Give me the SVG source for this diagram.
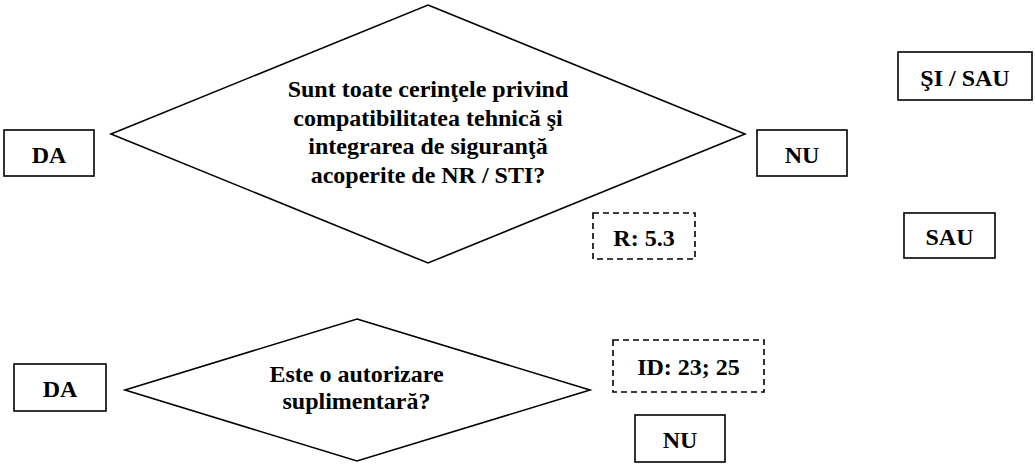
<svg xmlns="http://www.w3.org/2000/svg" width="1035" height="473" viewBox="0 0 1035 473">
<defs>
<style>
  .shape { fill: #ffffff; stroke: #000000; stroke-width: 1.6; }
  .dash { fill: #ffffff; stroke: #000000; stroke-width: 1.6; stroke-dasharray: 6 4; }
  .t { font-family: 'Liberation Serif', 'Times New Roman', serif; font-weight: 700; font-size: 24px; text-anchor: middle; fill: #000000; }
</style>
</defs>
<rect width="1035" height="473" fill="#ffffff"/>
<g id="connectors"></g>
<g id="decision1">
  <polygon class="shape" points="428,5 745,134 428,263 111,134"/>
  <text class="t" x="428" y="97">Sunt toate cerinţele privind</text>
  <text class="t" x="428" y="125.5">compatibilitatea tehnică şi</text>
  <text class="t" x="428" y="154">integrarea de siguranţă</text>
  <text class="t" x="428" y="182.5">acoperite de NR / STI?</text>
</g>
<g id="da1">
  <rect class="shape" x="4" y="130" width="90" height="46"/>
  <text class="t" x="49" y="163">DA</text>
</g>
<g id="nu1">
  <rect class="shape" x="757" y="130" width="90" height="46"/>
  <text class="t" x="802" y="163">NU</text>
</g>
<g id="si-sau">
  <rect class="shape" x="898" y="52" width="134" height="48"/>
  <text class="t" x="965" y="85.5">ŞI / SAU</text>
</g>
<g id="r53">
  <rect class="dash" x="593" y="213" width="102" height="46"/>
  <text class="t" x="644" y="245.5">R: 5.3</text>
</g>
<g id="sau">
  <rect class="shape" x="904" y="213" width="91" height="45"/>
  <text class="t" x="949.5" y="245">SAU</text>
</g>
<g id="decision2">
  <polygon class="shape" points="357,319 590,390 357,461 125,390"/>
  <text class="t" x="356.5" y="382">Este o autorizare</text>
  <text class="t" x="356.5" y="409">suplimentară?</text>
</g>
<g id="da2">
  <rect class="shape" x="14" y="364" width="92" height="47"/>
  <text class="t" x="60" y="397">DA</text>
</g>
<g id="id2325">
  <rect class="dash" x="613" y="340" width="151" height="52"/>
  <text class="t" x="688.5" y="375">ID: 23; 25</text>
</g>
<g id="nu2">
  <rect class="shape" x="635" y="415" width="90" height="47"/>
  <text class="t" x="680" y="448">NU</text>
</g>
</svg>
